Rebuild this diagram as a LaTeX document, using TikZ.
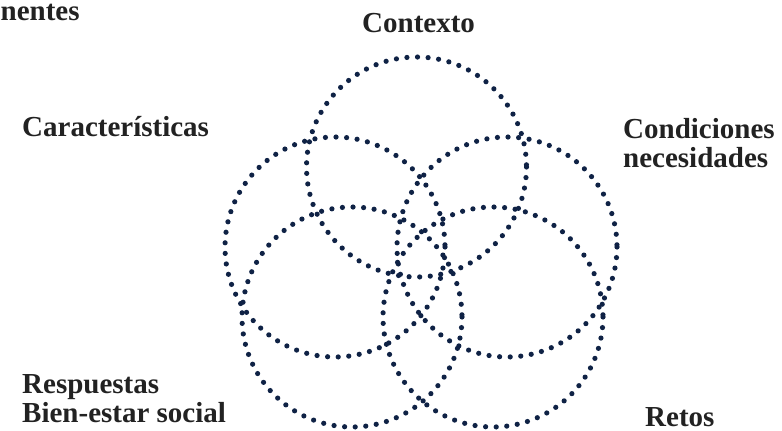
\documentclass[tikz,border=0pt]{standalone}
\usepackage{fontspec}
\setmainfont{Liberation Serif}
\definecolor{navy}{HTML}{0F2245}
\definecolor{txt}{HTML}{222222}
\tikzset{
  dotring/.style={draw=navy, line width=5.2pt, line cap=round, dash pattern=on 0pt off 10.6pt},
  lbl/.style={anchor=base west, inner sep=0pt, text=txt, font=\bfseries\fontsize{29}{29}\selectfont, align=left}
}
\begin{document}
\begin{tikzpicture}[x=1pt,y=-1pt]
\useasboundingbox (0,0) rectangle (782,431);
\coordinate (cT) at (416.5,167);
\coordinate (cL) at (335,247);
\coordinate (cR) at (507,247);
\coordinate (cBL) at (352,317);
\coordinate (cBR) at (493,317);
\foreach \c in {cT,cL,cR,cBL,cBR}{
  \draw[dotring] (\c) circle[radius=110];
}
\node[lbl] (nen) at (0.5,20) {nentes};
\node[lbl] (ctx) at (362,32) {Contexto};
\node[lbl] (car) at (22,136) {Características};
\node[lbl] (cond) at (623,167) {Condiciones\\necesidades};
\node[lbl] (resp) at (22,422) {Respuestas\\Bien-estar social};
\node[lbl] (ret) at (645,426) {Retos};
\end{tikzpicture}
\end{document}
